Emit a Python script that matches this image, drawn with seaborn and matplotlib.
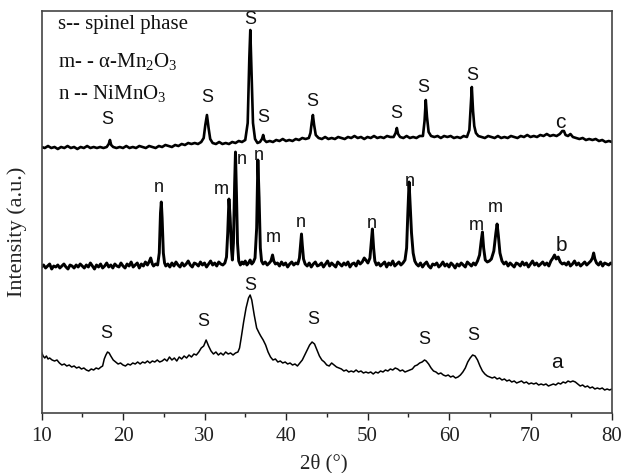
import matplotlib
matplotlib.use("Agg")
import matplotlib.pyplot as plt
from matplotlib.ticker import MultipleLocator
import numpy as np
import pandas as pd
import seaborn as sns

# ---------------- data (2theta, intensity in arbitrary offset units) ----------------
trace_a = [
    (10.0, 61), (10.2, 57), (10.4, 55), (10.6, 57), (10.8, 54), (11.0, 55),
    (11.3, 53), (11.6, 52), (11.9, 53), (12.2, 50), (12.5, 48), (12.8, 49), (13.1, 47),
    (13.4, 48), (13.7, 46), (14.0, 47), (14.3, 45), (14.6, 46), (14.9, 44), (15.2, 45),
    (15.5, 43), (15.8, 42), (16.1, 44), (16.4, 43), (16.7, 45), (17.0, 44), (17.3, 46),
    (17.5, 47), (17.7, 54), (17.9, 58), (18.1, 61), (18.3, 60), (18.5, 57),
    (18.8, 53), (19.1, 51), (19.4, 49), (19.7, 50), (20.0, 48), (20.3, 47), (20.6, 49),
    (20.9, 48), (21.2, 50), (21.5, 49), (21.8, 51), (22.1, 49), (22.4, 51), (22.7, 50),
    (23.0, 52), (23.3, 50), (23.6, 52), (23.9, 51), (24.2, 53), (24.5, 51), (24.8, 52),
    (25.1, 54), (25.4, 52), (25.7, 56), (26.0, 53), (26.3, 55), (26.6, 52), (26.9, 56),
    (27.2, 54), (27.5, 57), (27.8, 55), (28.1, 58), (28.4, 56), (28.7, 59), (29.0, 58),
    (29.3, 61), (29.6, 65), (29.9, 67), (30.2, 73), (30.5, 67), (30.8, 62), (31.1, 59),
    (31.4, 61), (31.7, 58), (32.0, 60), (32.3, 58), (32.6, 61), (32.9, 59), (33.2, 60),
    (33.5, 58), (33.8, 60), (34.1, 61), (34.3, 65), (34.5, 75), (34.8, 91), (35.1, 105),
    (35.4, 115), (35.6, 118), (35.8, 113), (36.1, 98), (36.4, 85), (36.7, 80), (36.9, 77),
    (37.2, 73), (37.5, 68), (37.8, 61), (38.1, 56), (38.4, 53), (38.7, 54), (39.0, 51),
    (39.3, 52), (39.6, 50), (39.9, 51), (40.2, 49), (40.5, 50), (40.8, 48), (41.1, 49),
    (41.4, 47), (41.7, 50), (42.0, 53), (42.3, 58), (42.6, 63), (42.9, 68), (43.2, 71),
    (43.5, 69), (43.8, 63), (44.1, 57), (44.4, 53), (44.7, 51), (45.0, 48), (45.3, 47),
    (45.6, 50), (45.9, 48), (46.2, 46), (46.5, 45), (46.8, 44), (47.1, 42), (47.4, 43),
    (47.7, 41), (48.0, 42), (48.3, 41), (48.6, 43), (48.9, 41), (49.2, 42), (49.5, 40),
    (49.8, 41), (50.1, 40), (50.4, 41), (50.7, 39), (51.0, 41), (51.3, 40), (51.6, 42),
    (51.9, 41), (52.2, 43), (52.5, 42), (52.8, 44), (53.1, 43), (53.4, 45), (53.7, 44),
    (54.0, 42), (54.3, 43), (54.6, 41), (54.9, 42), (55.2, 43), (55.5, 44), (55.8, 47),
    (56.1, 48), (56.4, 50), (56.7, 51), (57.0, 53), (57.2, 52), (57.5, 49), (57.8, 45),
    (58.1, 42), (58.4, 41), (58.7, 39), (59.0, 40), (59.3, 38), (59.6, 37), (59.9, 38),
    (60.2, 36), (60.5, 37), (60.8, 35), (61.1, 36), (61.4, 38), (61.7, 41), (62.0, 45),
    (62.3, 51), (62.6, 55), (62.9, 58), (63.2, 57), (63.5, 53), (63.8, 47), (64.1, 42),
    (64.4, 39), (64.7, 37), (65.0, 36), (65.3, 35), (65.6, 36), (65.9, 34), (66.2, 35),
    (66.5, 33), (66.8, 34), (67.1, 32), (67.4, 33), (67.7, 31), (68.0, 32), (68.3, 30),
    (68.6, 31), (68.9, 32), (69.2, 30), (69.5, 31), (69.8, 29), (70.1, 30), (70.4, 29),
    (70.7, 30), (71.0, 28), (71.3, 29), (71.6, 28), (71.9, 29), (72.2, 27), (72.5, 28),
    (72.8, 29), (73.1, 28), (73.4, 30), (73.7, 29), (74.0, 31), (74.3, 30), (74.6, 32),
    (74.9, 31), (75.2, 32), (75.5, 31), (75.8, 29), (76.1, 27), (76.4, 28), (76.7, 26),
    (77.0, 27), (77.3, 25), (77.6, 26), (77.9, 24), (78.2, 25), (78.5, 24), (78.8, 25),
    (79.1, 23), (79.4, 24), (79.7, 23), (80.0, 24),
]

trace_b = [
    (10.0, 146), (10.25, 148), (10.5, 145), (10.75, 147), (11.0, 149), (11.25, 144),
    (11.5, 147), (11.75, 146), (12.0, 148), (12.25, 145), (12.5, 147), (12.75, 149),
    (13.0, 146), (13.25, 144), (13.5, 148), (13.75, 147), (14.0, 145), (14.25, 148),
    (14.5, 146), (14.75, 149), (15.0, 147),
    (15.25, 145), (15.5, 148), (15.75, 146), (16.0, 150), (16.25, 147), (16.5, 144),
    (16.75, 148), (17.0, 146), (17.25, 149), (17.5, 145), (17.75, 147), (18.0, 150),
    (18.25, 146), (18.5, 148), (18.75, 145), (19.0, 149), (19.25, 147), (19.5, 146),
    (19.75, 150), (20.0, 147),
    (20.25, 145), (20.5, 149), (20.75, 147), (21.0, 151), (21.25, 146), (21.5, 148),
    (21.75, 150), (22.0, 145), (22.25, 149), (22.5, 147), (22.75, 151), (23.0, 148),
    (23.25, 152), (23.4, 155), (23.6, 149), (23.75, 147), (24.0, 149), (24.25, 148),
    (24.45, 160), (24.6, 200), (24.7, 211), (24.8, 195), (24.95, 160), (25.1, 150),
    (25.25, 147),
    (25.5, 149), (25.75, 146), (26.0, 150), (26.25, 147), (26.5, 151), (26.75, 148),
    (27.0, 146), (27.25, 150), (27.5, 147), (27.75, 149), (28.0, 152), (28.25, 148),
    (28.5, 146), (28.75, 150), (29.0, 149), (29.25, 147), (29.5, 151), (29.75, 148),
    (30.0, 150), (30.25, 146), (30.5, 149), (30.75, 152), (31.0, 148), (31.25, 150),
    (31.5, 147), (31.75, 151), (32.0, 149), (32.25, 148), (32.5, 150),
    (32.7, 156), (32.85, 180), (33.0, 214), (33.15, 195), (33.3, 165), (33.42, 153),
    (33.55, 170), (33.7, 230), (33.8, 261), (33.92, 220), (34.05, 170), (34.2, 152),
    (34.4, 148),
    (34.6, 151), (34.8, 149), (35.0, 152), (35.2, 148), (35.4, 150), (35.6, 153),
    (35.8, 149), (36.0, 151), (36.2, 155),
    (36.4, 185), (36.55, 253), (36.7, 215), (36.85, 165), (37.0, 152), (37.2, 149),
    (37.45, 151), (37.7, 148), (37.95, 150), (38.15, 152), (38.35, 158), (38.5, 152),
    (38.7, 149),
    (38.95, 150), (39.2, 147), (39.45, 151), (39.7, 148), (39.95, 150), (40.2, 146),
    (40.45, 149), (40.7, 151), (40.95, 148), (41.2, 150), (41.45, 149),
    (41.65, 155), (41.8, 170), (41.9, 179), (42.0, 168), (42.15, 154), (42.35, 149),
    (42.6, 147), (42.85, 150), (43.1, 146), (43.35, 149), (43.6, 151), (43.85, 147),
    (44.1, 148), (44.35, 150), (44.6, 146), (44.85, 149), (45.1, 152), (45.35, 147),
    (45.6, 150), (45.85, 148), (46.1, 146), (46.35, 151), (46.6, 149), (46.85, 147),
    (47.1, 150), (47.35, 148), (47.6, 151), (47.85, 146), (48.1, 149), (48.35, 150),
    (48.6, 147), (48.85, 152), (49.1, 149), (49.35, 151),
    (49.6, 155), (49.8, 153), (50.05, 150), (50.3, 155), (50.45, 170), (50.6, 184),
    (50.75, 165), (50.9, 152), (51.1, 148),
    (51.35, 150), (51.6, 147), (51.85, 149), (52.1, 151), (52.35, 146), (52.6, 150),
    (52.85, 148), (53.1, 152), (53.35, 147), (53.6, 149), (53.85, 151), (54.1, 148),
    (54.35, 150), (54.6, 153),
    (54.8, 165), (54.95, 200), (55.1, 231), (55.25, 205), (55.4, 180), (55.6, 160),
    (55.8, 152), (56.0, 149),
    (56.25, 147), (56.5, 150), (56.75, 146), (57.0, 149), (57.25, 151), (57.5, 147),
    (57.75, 145), (58.0, 149), (58.25, 148), (58.5, 150), (58.75, 146), (59.0, 148),
    (59.25, 151), (59.5, 147), (59.75, 149), (60.0, 146), (60.25, 150), (60.5, 148),
    (60.75, 145), (61.0, 149), (61.25, 147), (61.5, 150), (61.75, 148), (62.0, 146),
    (62.25, 151), (62.5, 149), (62.75, 147), (63.0, 150), (63.25, 148), (63.5, 152),
    (63.75, 158), (63.95, 172), (64.1, 181), (64.25, 165), (64.45, 153), (64.7, 151),
    (64.95, 152), (65.2, 154), (65.5, 162), (65.75, 180), (65.9, 189), (66.05, 178),
    (66.25, 160), (66.5, 152), (66.75, 149),
    (67.0, 151), (67.25, 147), (67.5, 150), (67.75, 148), (68.0, 146), (68.25, 150),
    (68.5, 149), (68.75, 147), (69.0, 151), (69.25, 148), (69.5, 150), (69.75, 146),
    (70.0, 149), (70.25, 152), (70.5, 148), (70.75, 150), (71.0, 147), (71.25, 149),
    (71.5, 151), (71.75, 148), (72.0, 150), (72.25, 147), (72.5, 152),
    (72.75, 155), (72.95, 158), (73.15, 154), (73.4, 156), (73.65, 151), (73.9, 149),
    (74.15, 150), (74.4, 148), (74.65, 151), (74.9, 147), (75.15, 149), (75.4, 152),
    (75.65, 148), (75.9, 150), (76.15, 147), (76.4, 149), (76.65, 151), (76.9, 148),
    (77.15, 150), (77.4, 152),
    (77.6, 155), (77.75, 160), (77.9, 154), (78.1, 150),
    (78.35, 148), (78.6, 151), (78.85, 147), (79.1, 150), (79.35, 149), (79.6, 148),
    (79.85, 150), (80.0, 149),
]

trace_c = [
    (10.0, 266), (10.4, 265), (10.8, 267), (11.2, 265), (11.6, 266), (12.0, 264),
    (12.4, 266), (12.8, 265), (13.2, 267), (13.6, 265), (14.0, 266), (14.4, 264),
    (14.8, 266), (15.2, 265), (15.6, 267), (16.0, 265), (16.4, 266), (16.8, 265),
    (17.2, 266), (17.6, 265),
    (18.0, 266), (18.25, 269), (18.4, 273), (18.55, 268), (18.8, 266),
    (19.2, 265), (19.6, 266), (20.0, 265), (20.4, 267), (20.8, 265), (21.2, 266),
    (21.6, 265), (22.0, 267), (22.4, 266), (22.8, 265), (23.2, 267), (23.6, 266),
    (24.0, 265), (24.4, 267), (24.8, 266), (25.2, 268), (25.6, 267), (26.0, 266),
    (26.4, 268), (26.8, 267), (27.2, 269), (27.6, 268), (28.0, 270), (28.4, 269),
    (28.8, 270), (29.2, 269), (29.6, 271),
    (29.9, 275), (30.1, 288), (30.3, 298), (30.5, 285), (30.7, 274), (31.0, 270),
    (31.4, 269), (31.8, 271), (32.2, 269), (32.6, 270), (33.0, 269), (33.4, 271),
    (33.8, 270), (34.2, 272), (34.6, 271),
    (35.0, 273), (35.3, 290), (35.5, 355), (35.62, 383), (35.75, 345), (35.95, 290),
    (36.2, 274), (36.5, 270), (36.8, 271), (37.05, 274), (37.2, 278), (37.35, 273),
    (37.6, 271),
    (38.0, 272), (38.4, 271), (38.8, 273), (39.2, 272), (39.6, 274), (40.0, 272),
    (40.4, 273), (40.8, 272), (41.2, 274), (41.6, 273), (42.0, 275), (42.4, 274),
    (42.8, 275),
    (43.0, 280), (43.15, 290), (43.3, 298), (43.45, 288), (43.65, 278), (44.0, 275),
    (44.4, 274), (44.8, 276), (45.2, 274), (45.6, 275), (46.0, 274), (46.4, 276),
    (46.8, 275), (47.2, 274), (47.6, 276), (48.0, 275), (48.4, 277), (48.8, 275),
    (49.2, 276), (49.6, 274), (50.0, 276), (50.4, 275), (50.8, 277), (51.2, 275),
    (51.6, 276), (52.0, 275), (52.4, 277), (52.8, 276), (53.2, 276),
    (53.45, 280), (53.6, 285), (53.75, 279), (54.0, 276),
    (54.4, 275), (54.8, 277), (55.2, 275), (55.6, 276), (56.0, 275), (56.4, 277),
    (56.8, 277),
    (57.0, 292), (57.15, 313), (57.3, 296), (57.5, 281), (57.8, 277),
    (58.2, 276), (58.6, 277), (59.0, 275), (59.4, 277), (59.8, 276), (60.2, 277),
    (60.6, 275), (61.0, 276), (61.4, 275), (61.8, 277), (62.2, 276),
    (62.5, 283), (62.65, 305), (62.8, 326), (62.95, 302), (63.1, 287), (63.3, 280),
    (63.6, 277),
    (64.0, 276), (64.4, 275), (64.8, 277), (65.2, 276), (65.6, 275), (66.0, 277),
    (66.4, 275), (66.8, 276), (67.2, 275), (67.6, 277), (68.0, 276), (68.4, 275),
    (68.8, 277), (69.2, 276), (69.6, 278), (70.0, 276), (70.4, 277), (70.8, 276),
    (71.2, 278), (71.6, 277), (72.0, 279), (72.4, 277), (72.8, 278), (73.2, 277),
    (73.6, 279),
    (73.9, 282), (74.1, 282), (74.3, 278), (74.6, 277), (74.9, 279), (75.2, 276),
    (75.6, 275), (76.0, 274), (76.4, 275), (76.8, 273), (77.2, 274), (77.6, 273),
    (78.0, 274), (78.4, 272), (78.8, 273), (79.2, 271), (79.6, 272), (80.0, 271),
]

# peak labels: (2theta, intensity, text)
labels_a = [(18.0, 79, "S"), (29.8, 92, "S"), (35.6, 128, "S"), (43.3, 94, "S"),
            (56.9, 74, "S"), (63.0, 77, "S")]
labels_b = [(24.4, 226, "n"), (32.0, 223, "m"), (34.6, 254, "n"), (36.7, 257, "n"),
            (38.5, 176, "m"), (41.8, 191, "n"), (50.5, 190, "n"), (55.2, 232, "n"),
            (63.4, 188, "m"), (65.7, 205, "m")]
labels_c = [(18.1, 293, "S"), (30.3, 315, "S"), (35.6, 393, "S"), (37.2, 295, "S"),
            (43.2, 311, "S"), (53.5, 300, "S"), (56.8, 325, "S"), (62.8, 338, "S")]
trace_names = [(73.3, 51, "a"), (73.8, 168, "b"), (73.6, 291, "c")]
legend_lines = ["s-- spinel phase",
                r"m- - $\mathrm{\alpha}$-Mn$_\mathrm{2}$O$_\mathrm{3}$",
                r"n -- NiMn$\mathrm{O}_\mathrm{3}$"]
legend_y = [388, 351, 320]

# ---------------- style ----------------
sns.set_theme(style="ticks")
plt.rcParams["font.family"] = ["Liberation Serif", "DejaVu Serif"]
plt.rcParams["mathtext.fontset"] = "custom"
plt.rcParams["mathtext.rm"] = "Liberation Serif"
plt.rcParams["mathtext.it"] = "Liberation Serif:italic"
plt.rcParams["mathtext.bf"] = "Liberation Serif:bold"

fig = plt.figure(figsize=(6.23, 4.73), dpi=100)
ax = fig.add_axes([41.5 / 623, 1 - 413 / 473, (612 - 41.5) / 623, (413 - 11) / 473])

frames = []
for name, tr in (("a", trace_a), ("b", trace_b), ("c", trace_c)):
    d = pd.DataFrame(tr, columns=["two_theta", "intensity"])
    d["trace"] = name
    frames.append(d)
df = pd.concat(frames, ignore_index=True)

widths = {"a": 1.1, "b": 2.1, "c": 1.9}
for name in ("a", "b", "c"):
    sns.lineplot(data=df[df["trace"] == name], x="two_theta", y="intensity",
                 color="black", linewidth=widths[name], estimator=None,
                 sort=False, ax=ax, legend=False)

sans = ["Liberation Sans", "DejaVu Sans"]
for lab in (labels_a, labels_b, labels_c):
    for x, y, t in lab:
        ax.text(x, y, t, ha="center", va="center", fontsize=13, family=sans,
                color="#111111")
for x, y, t in trace_names:
    ax.text(x, y, t, ha="center", va="center", fontsize=15, family=sans,
            color="#111111")
for t, y in zip(legend_lines, legend_y):
    ax.text(12.0, y, t, ha="left", va="center", fontsize=15, color="#111111")

ax.set_xlim(10, 80)
ax.set_ylim(0, 402)
ax.set_yticks([])
ax.xaxis.set_major_locator(MultipleLocator(10))
ax.xaxis.set_minor_locator(MultipleLocator(5))
ax.tick_params(axis="x", which="major", direction="out", length=5, width=1.0,
               pad=5, labelsize=15, colors="#222222")
ax.tick_params(axis="x", which="minor", direction="out", length=3, width=1.0,
               colors="#222222")
ax.set_xlabel("")
ax.set_ylabel("")
for s in ax.spines.values():
    s.set_visible(True)
    s.set_color("#444444")
    s.set_linewidth(1.2)

fig.text(17 / 623, 1 - 232 / 473, "Intensity (a.u.)", rotation=90, ha="center",
         va="center", fontsize=16, color="#222222")
fig.text(324 / 623, 1 - 464 / 473, "2θ (°)", ha="center", va="center",
         fontsize=15, color="#222222")

fig.savefig("out.png", dpi=100)
